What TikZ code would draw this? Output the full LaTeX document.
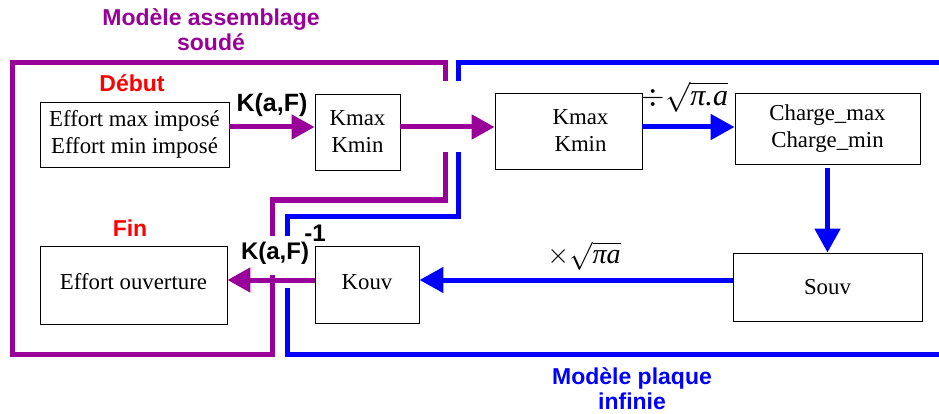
\documentclass[tikz,border=0pt]{standalone}
\usepackage{fontspec}
\usepackage{graphicx}
\setmainfont{Liberation Serif}
\setsansfont{Liberation Sans}
\usetikzlibrary{arrows.meta}
\definecolor{pur}{RGB}{153,0,153}
\definecolor{blu}{RGB}{0,0,255}
\definecolor{redt}{RGB}{255,0,0}
\begin{document}
\begin{tikzpicture}[x=1pt,y=-1pt,
 box/.style={draw=black, line width=0.9pt, inner sep=0pt, align=center, font=\fontsize{22.8}{27}\selectfont},
 preg/.style={pur, line width=5pt},
 breg/.style={blu, line width=5pt},
 parr/.style={pur, line width=5pt, -{Triangle[length=23pt,width=24pt]}},
 barr/.style={blu, line width=5pt, -{Triangle[length=24pt,width=25pt]}},
 lbl/.style={font=\sffamily\bfseries\fontsize{23}{25}\selectfont, align=center, inner sep=0pt},
 mth/.style={font=\huge, inner sep=0pt},
 ]
\useasboundingbox (0,0) rectangle (939,414);

% region outlines
\draw[preg] (445,81) -- (445,63) -- (12,63) -- (12,354) -- (272,354) -- (272,275);
\draw[preg] (272,236) -- (272,200) -- (445,200) -- (445,152);
\draw[breg] (458,81) -- (458,63) -- (945,63);
\draw[breg] (458,152) -- (458,216) -- (287,216) -- (287,236);
\draw[breg] (287,288) -- (287,354) -- (945,354);

% boxes
\node[box, minimum width=189pt, minimum height=65pt] (e1) at (134.5,134.5) {Effort max imposé\\Effort min imposé};
\node[box, minimum width=85pt, minimum height=76pt] (k1) at (357.5,132) {Kmax\\Kmin};
\node[box, minimum width=147pt, minimum height=76pt] (k2) at (568.5,131) {\hspace*{24pt}Kmax\\\hspace*{24pt}Kmin};
\node[box, minimum width=185pt, minimum height=71pt] (ch) at (827.5,128.5) {Charge\_max\\Charge\_min};
\node[box, minimum width=189pt, minimum height=68pt] (so) at (827.5,287) {Souv};
\node[box, minimum width=104pt, minimum height=77pt] (ko) at (367,284.5) {\raisebox{4pt}{Kouv}};
\node[box, minimum width=187pt, minimum height=78pt] (eo) at (133.5,285) {\raisebox{7pt}{Effort ouverture}};

% arrows
\draw[parr] ([yshift=7.5pt]e1.east) -- ([yshift=7.5pt]e1.east -| k1.west);
\draw[parr] ([yshift=5pt]k1.east) -- ([yshift=5pt]k1.east -| k2.west);
\draw[barr] ([yshift=4pt]k2.east) -- ([yshift=4pt]k2.east -| ch.west);
\draw[barr, shorten <=4pt] (ch.south) -- (so.north);
\draw[barr] ([yshift=7pt]so.west) -- ([yshift=7pt]so.west -| ko.east);
\draw[parr] ([yshift=4.5pt]ko.west) -- ([yshift=4.5pt]ko.west -| eo.east);

% labels
\node[lbl, pur] (t1) at (211,30) {Modèle assemblage\\soudé};
\node[lbl, blu] (t2) at (632,389) {Modèle plaque\\infinie};
\node[lbl, redt] (deb) at (132,83) {Début};
\node[lbl, redt] (fin) at (130,228) {Fin};
\node[lbl, font=\sffamily\bfseries\fontsize{25}{27}\selectfont] (kf1) at (272,105) {K(a,F)};
\node[lbl, font=\sffamily\bfseries\fontsize{24}{27}\selectfont] (kf2) at (275,253) {K(a,F)};
\node[lbl, font=\sffamily\bfseries\fontsize{24}{27}\selectfont] (kfe) at (315,233) {-1};
\node[mth] (m1) at (685,97) {\scalebox{1.45}{$\div\sqrt{\mbox{\itshape π.a}}$}};
\node[mth] (m2) at (584,256) {\scalebox{1.35}{$\times\sqrt{\mbox{\itshape πa}}$}};
\end{tikzpicture}
\end{document}
